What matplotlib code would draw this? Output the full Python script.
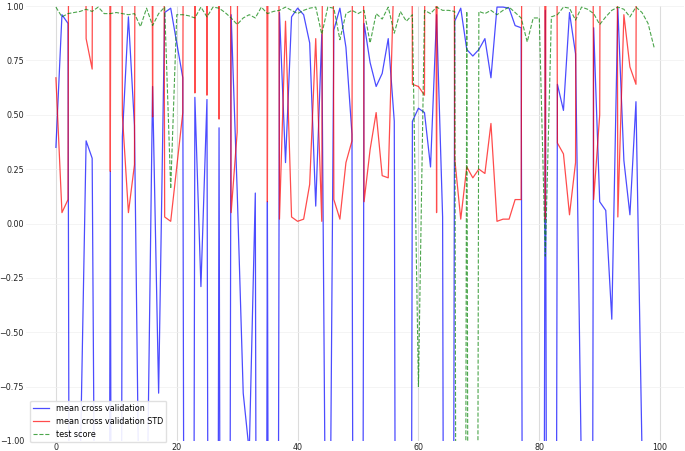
import matplotlib
matplotlib.use('Agg')
import matplotlib.pyplot as plt

# values; -12 / 12 stand for points far outside the visible range
mean_cv = [0.35, 0.96, 0.92, -12, -1.15, 0.38, 0.30, -4, -12, 0.24,
           -12, 0.40, 0.95, 0.45, -1.9, -1.5, 0.63, -0.78, 0.97, 0.99,
           0.83, 0.67, -12, 0.58, -0.29, 0.57, -12, 0.44, -12, 0.96,
           0.15, -0.78, -1.05, 0.14, -12, 0.10, -12, 0.97, 0.28, 0.95,
           0.99, 0.96, 0.83, 0.08, 0.87, -2.9, 0.89, 0.99, 0.81, 0.41,
           -12, 0.92, 0.74, 0.63, 0.69, 0.85, 0.47, -12, -12, 0.47,
           0.53, 0.51, 0.26, 0.96, 0.03, -12, 0.93, 0.99, 0.80, 0.77,
           0.80, 0.85, 0.67, 0.995, 0.995, 0.99, 0.91, 0.90, -12, -12,
           -12, 0.98, -12, 0.64, 0.52, 0.97, 0.78, -1.2, -12, 0.90,
           0.10, 0.06, -0.44, 0.99, 0.29, 0.04, 0.56, -1.05, -12, -12]

mean_cv_std = [0.67, 0.05, 0.11, 12, 12, 0.85, 0.71, 12, 12, 0.24,
               12, 0.50, 0.05, 0.27, 12, 12, 0.49, 12, 0.03, 0.01,
               0.26, 0.51, 12, 0.60, 12, 0.59, 12, 0.48, 12, 0.05,
               0.42, 12, 12, 12, 12, 0.10, 12, 0.02, 0.93, 0.03,
               0.01, 0.02, 0.18, 0.85, 0.01, 12, 0.11, 0.02, 0.28, 0.38,
               12, 0.10, 0.34, 0.51, 0.22, 0.21, 1.2, 12, 12, 0.64,
               0.63, 0.59, 12, 0.05, 12, 12, 0.30, 0.02, 0.26, 0.21,
               0.25, 0.23, 0.46, 0.01, 0.02, 0.02, 0.11, 0.11, 12, 12,
               12, 0.02, 12, 0.37, 0.32, 0.04, 0.28, 12, 12, 0.11,
               0.50, 12, 12, 0.03, 0.96, 0.72, 0.64, 12, 12, 12]

test_score = [0.995, 0.95, 0.965, 0.97, 0.975, 0.985, 0.975, 0.995, 0.965, 0.965,
              0.97, 0.965, 0.96, 0.965, 0.905, 0.99, 0.91, 0.965, 0.995, 0.16,
              0.96, 0.96, 0.955, 0.945, 0.995, 0.95, 0.995, 0.99, 0.97, 0.945,
              0.915, 0.945, 0.96, 0.945, 0.995, 0.965, 0.975, 0.98, 0.995, 0.98,
              0.965, 0.98, 0.99, 0.995, 0.87, 0.995, 0.99, 0.845, 0.965, 0.98,
              0.965, 0.98, 0.83, 0.965, 0.94, 0.995, 0.875, 0.975, 0.93, 0.96,
              -0.75, 0.98, 0.965, 0.995, 0.98, 0.98, 0.975, -12, 0.975, -12,
              0.975, 0.965, 0.98, 0.96, 0.98, 0.995, 0.97, 0.945, 0.835, 0.945,
              0.945, -0.15, 0.95, 0.96, 0.995, 0.99, 0.935, 0.995, 0.985, 0.965,
              0.915, 0.95, 0.98, 0.995, 0.985, 0.95, 0.995, 0.97, 0.92, 0.81]

trial = list(range(len(mean_cv)))

plt.rcParams['font.size'] = 5.8

fig = plt.figure(figsize=(6.85, 4.51), dpi=100)
ax = fig.add_axes([26 / 685, 10 / 451, 658 / 685, 435 / 451])

ax.plot(trial, mean_cv, color='#0000ff', lw=0.9, alpha=0.7, label='mean cross validation')
ax.plot(trial, mean_cv_std, color='#ff0000', lw=0.9, alpha=0.7, label='mean cross validation STD')
ax.plot(trial, test_score, color='#008000', ls='--', lw=0.8, alpha=0.7, label='test score')

ax.set_ylim(-1, 1)
ax.set_xlim(-4.95, 103.95)

ax.grid(axis='x', color='#dcdcdc', lw=0.8)
ax.grid(axis='y', color='#f0f0f0', lw=0.5)
ax.set_axisbelow(True)
for s in ax.spines.values():
    s.set_visible(False)
ax.tick_params(length=0, pad=1.5, colors='#222222')

ax.legend(loc='lower left', bbox_to_anchor=(4 / 658, -0.003), borderaxespad=0,
          edgecolor='#dddddd', framealpha=0.9)

plt.savefig('out.png', dpi=100)
